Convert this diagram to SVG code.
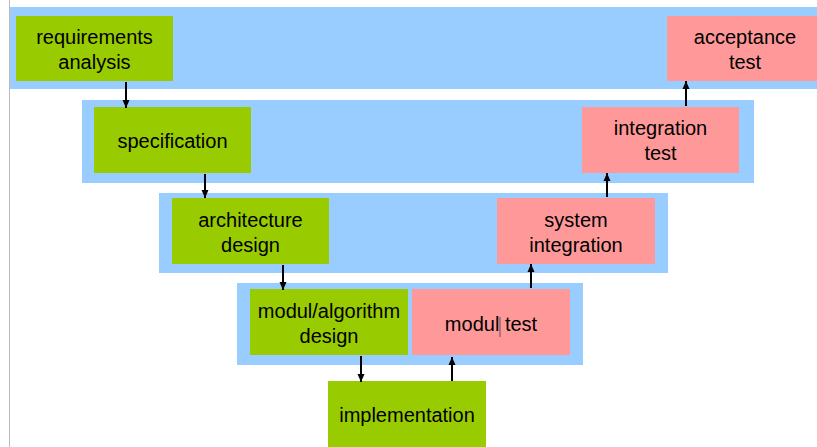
<svg xmlns="http://www.w3.org/2000/svg" width="817" height="447" viewBox="0 0 817 447">
  <defs>
    <marker id="arrow" viewBox="0 0 8 8" refX="8" refY="4" markerWidth="8" markerHeight="8" markerUnits="userSpaceOnUse" orient="auto">
      <path d="M0,0.5 L8,4 L0,7.5 Z" fill="#000"/>
    </marker>
    <style>
      .band { fill: #99CCFF; }
      .dev { fill: #99CC00; }
      .test { fill: #FF9999; }
      .label { font-family: "Liberation Sans", Arial, sans-serif; font-size: 20px; fill: #000; text-anchor: middle; }
      .conn { stroke: #000; stroke-width: 2; fill: none; marker-end: url(#arrow); }
    </style>
  </defs>

  <rect width="817" height="447" fill="#fff"/>
  <line x1="9.5" y1="0" x2="9.5" y2="447" stroke="#BBBBBB" stroke-width="1"/>

  <!-- V-model levels -->
  <g id="levels">
    <rect class="band" x="10" y="7" width="815" height="82"/>
    <rect class="band" x="82" y="100" width="672" height="83"/>
    <rect class="band" x="159" y="193" width="509" height="80"/>
    <rect class="band" x="237" y="283" width="346" height="82"/>
  </g>

  <g id="requirements-analysis">
    <rect class="dev" x="16" y="16" width="157" height="65"/>
    <text class="label" x="94.5" y="44">requirements</text>
    <text class="label" x="94.5" y="69">analysis</text>
  </g>

  <g id="specification">
    <rect class="dev" x="94" y="107" width="157" height="66"/>
    <text class="label" x="172.5" y="148">specification</text>
  </g>

  <g id="architecture-design">
    <rect class="dev" x="172" y="198" width="157" height="66"/>
    <text class="label" x="250.5" y="227">architecture</text>
    <text class="label" x="250.5" y="251.5">design</text>
  </g>

  <g id="modul-algorithm-design">
    <rect class="dev" x="250" y="289" width="158" height="66"/>
    <text class="label" x="329" y="318">modul/algorithm</text>
    <text class="label" x="329" y="342.5">design</text>
  </g>

  <g id="implementation">
    <rect class="dev" x="328" y="381" width="158" height="70"/>
    <text class="label" x="407" y="421.5">implementation</text>
  </g>

  <g id="modul-test">
    <rect class="test" x="412" y="289" width="158" height="66"/>
    <text class="label" x="491" y="330.5">modul test</text>
    <line x1="500" y1="317" x2="500" y2="337" stroke="#555" stroke-width="1"/>
  </g>

  <g id="system-integration">
    <rect class="test" x="497" y="198" width="158" height="66"/>
    <text class="label" x="576" y="227">system</text>
    <text class="label" x="576" y="251.5">integration</text>
  </g>

  <g id="integration-test">
    <rect class="test" x="582" y="107" width="157" height="66"/>
    <text class="label" x="660.5" y="135">integration</text>
    <text class="label" x="660.5" y="159.5">test</text>
  </g>

  <g id="acceptance-test">
    <rect class="test" x="667" y="16" width="156" height="65"/>
    <text class="label" x="745" y="44">acceptance</text>
    <text class="label" x="745" y="69">test</text>
  </g>

  <g id="connectors">
    <line class="conn" x1="126" y1="82" x2="126" y2="108"/>
    <line class="conn" x1="205" y1="174" x2="205" y2="198"/>
    <line class="conn" x1="283" y1="265" x2="283" y2="290"/>
    <line class="conn" x1="361" y1="356" x2="361" y2="382"/>
    <line class="conn" x1="452" y1="381" x2="452" y2="357"/>
    <line class="conn" x1="531" y1="288" x2="531" y2="264"/>
    <line class="conn" x1="607" y1="197" x2="607" y2="173"/>
    <line class="conn" x1="686" y1="106" x2="686" y2="81"/>
  </g>
</svg>
